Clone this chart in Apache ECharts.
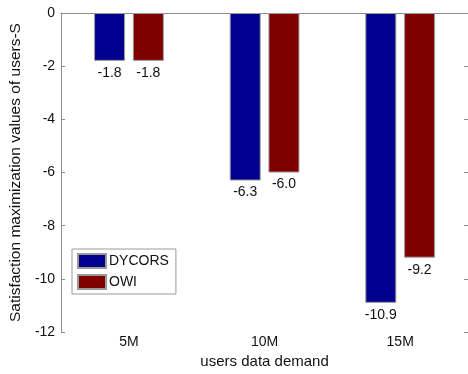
<!DOCTYPE html>
<html>
<head>
<meta charset="utf-8">
<script src="https://cdn.jsdelivr.net/npm/echarts@6/dist/echarts.min.js"></script>
<style>
  html, body { margin: 0; padding: 0; background: #fff; }
  #chart { width: 468px; height: 374px; }
</style>
</head>
<body>
<div id="chart"></div>
<script>
// Data demand levels and the satisfaction values of each method
const categories = ['5M', '10M', '15M'];
const dycors = [-1.8, -6.3, -10.9];
const owi = [-1.8, -6.0, -9.2];
const yTicks = { min: -12, max: 0, interval: 2 };

const axisGray = '#8c8c8c';
const font = 'Liberation Sans, Arial, sans-serif';

const chart = echarts.init(document.getElementById('chart'), null, { renderer: 'canvas' });

function valueLabel() {
  return {
    show: true,
    position: 'bottom',
    distance: 5,
    color: '#111',
    fontFamily: font,
    fontSize: 14,
    formatter: p => p.value.toFixed(1)
  };
}

const boxAxis = {
  axisLine: { show: true, lineStyle: { color: axisGray, width: 1 } },
  axisLabel: { show: false },
  splitLine: { show: false }
};

chart.setOption({
  animation: false,
  backgroundColor: '#fff',
  grid: { left: 60, top: 13, right: -1, bottom: 36, containLabel: false },
  legend: {
    orient: 'vertical',
    left: 72,
    top: 249,
    backgroundColor: '#fff',
    borderColor: '#9a9a9a',
    borderWidth: 1,
    borderRadius: 0,
    padding: [4, 7, 4, 5],
    itemWidth: 28,
    itemHeight: 14,
    itemGap: 5,
    icon: 'rect',
    textStyle: { fontFamily: font, fontSize: 14, color: '#111', padding: [0, 0, 0, -2] },
    data: ['DYCORS', 'OWI']
  },
  xAxis: [
    {
      type: 'category',
      data: categories,
      position: 'bottom',
      axisLine: { lineStyle: { color: axisGray, width: 1 } },
      axisTick: { inside: true, length: 4, alignWithLabel: true, lineStyle: { color: axisGray } },
      axisLabel: { color: '#111', fontFamily: font, fontSize: 14, margin: 3 },
      name: 'users data demand',
      nameLocation: 'middle',
      nameGap: 17,
      nameTextStyle: { color: '#111', fontFamily: font, fontSize: 15 }
    },
    Object.assign({
      type: 'category',
      data: categories,
      position: 'top',
      axisTick: { inside: true, length: 4, alignWithLabel: true, lineStyle: { color: axisGray } }
    }, boxAxis)
  ],
  yAxis: [
    {
      type: 'value',
      min: yTicks.min,
      max: yTicks.max,
      interval: yTicks.interval,
      axisLine: { show: true, lineStyle: { color: axisGray, width: 1 } },
      axisTick: { show: true, inside: true, length: 4, lineStyle: { color: axisGray } },
      axisLabel: { color: '#111', fontFamily: font, fontSize: 14, margin: 6 },
      splitLine: { show: false },
      name: 'Satisfaction maximization values of users-S',
      nameLocation: 'middle',
      nameGap: 30,
      nameTextStyle: { color: '#111', fontFamily: font, fontSize: 15.5 }
    },
    Object.assign({
      type: 'value',
      position: 'right',
      min: yTicks.min,
      max: yTicks.max,
      interval: yTicks.interval,
      axisTick: { show: true, inside: true, length: 4, lineStyle: { color: axisGray } }
    }, boxAxis)
  ],
  series: [
    {
      name: 'DYCORS',
      type: 'bar',
      data: dycors,
      barWidth: 31,
      barGap: '25%',
      itemStyle: { color: '#00008f', borderColor: '#9a9a9a', borderWidth: 1 },
      label: valueLabel()
    },
    {
      name: 'OWI',
      type: 'bar',
      data: owi,
      barWidth: 31,
      barGap: '25%',
      itemStyle: { color: '#800000', borderColor: '#9a9a9a', borderWidth: 1 },
      label: valueLabel()
    }
  ]
});
</script>
</body>
</html>
